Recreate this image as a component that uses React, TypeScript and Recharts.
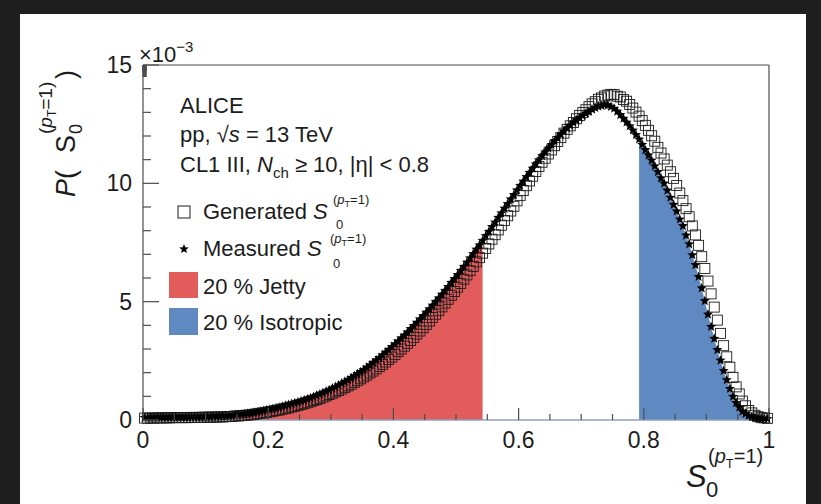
import React from "react";
import { ComposedChart, Area, Scatter, XAxis, YAxis } from "recharts";

// bin centres of S0 (pT=1), 200 bins of 0.005
const binCenters = [
  0.0025, 0.0075, 0.0125, 0.0175, 0.0225, 0.0275, 0.0325, 0.0375, 0.0425, 0.0475,
  0.0525, 0.0575, 0.0625, 0.0675, 0.0725, 0.0775, 0.0825, 0.0875, 0.0925, 0.0975,
  0.1025, 0.1075, 0.1125, 0.1175, 0.1225, 0.1275, 0.1325, 0.1375, 0.1425, 0.1475,
  0.1525, 0.1575, 0.1625, 0.1675, 0.1725, 0.1775, 0.1825, 0.1875, 0.1925, 0.1975,
  0.2025, 0.2075, 0.2125, 0.2175, 0.2225, 0.2275, 0.2325, 0.2375, 0.2425, 0.2475,
  0.2525, 0.2575, 0.2625, 0.2675, 0.2725, 0.2775, 0.2825, 0.2875, 0.2925, 0.2975,
  0.3025, 0.3075, 0.3125, 0.3175, 0.3225, 0.3275, 0.3325, 0.3375, 0.3425, 0.3475,
  0.3525, 0.3575, 0.3625, 0.3675, 0.3725, 0.3775, 0.3825, 0.3875, 0.3925, 0.3975,
  0.4025, 0.4075, 0.4125, 0.4175, 0.4225, 0.4275, 0.4325, 0.4375, 0.4425, 0.4475,
  0.4525, 0.4575, 0.4625, 0.4675, 0.4725, 0.4775, 0.4825, 0.4875, 0.4925, 0.4975,
  0.5025, 0.5075, 0.5125, 0.5175, 0.5225, 0.5275, 0.5325, 0.5375, 0.5425, 0.5475,
  0.5525, 0.5575, 0.5625, 0.5675, 0.5725, 0.5775, 0.5825, 0.5875, 0.5925, 0.5975,
  0.6025, 0.6075, 0.6125, 0.6175, 0.6225, 0.6275, 0.6325, 0.6375, 0.6425, 0.6475,
  0.6525, 0.6575, 0.6625, 0.6675, 0.6725, 0.6775, 0.6825, 0.6875, 0.6925, 0.6975,
  0.7025, 0.7075, 0.7125, 0.7175, 0.7225, 0.7275, 0.7325, 0.7375, 0.7425, 0.7475,
  0.7525, 0.7575, 0.7625, 0.7675, 0.7725, 0.7775, 0.7825, 0.7875, 0.7925, 0.7975,
  0.8025, 0.8075, 0.8125, 0.8175, 0.8225, 0.8275, 0.8325, 0.8375, 0.8425, 0.8475,
  0.8525, 0.8575, 0.8625, 0.8675, 0.8725, 0.8775, 0.8825, 0.8875, 0.8925, 0.8975,
  0.9025, 0.9075, 0.9125, 0.9175, 0.9225, 0.9275, 0.9325, 0.9375, 0.9425, 0.9475,
  0.9525, 0.9575, 0.9625, 0.9675, 0.9725, 0.9775, 0.9825, 0.9875, 0.9925, 0.9975,
];

// P(S0) in units of 1e-3, generated level
const generated = [
  0.08, 0.08, 0.08, 0.08, 0.09, 0.09, 0.09, 0.09, 0.09, 0.10,
  0.10, 0.10, 0.10, 0.10, 0.10, 0.11, 0.11, 0.11, 0.11, 0.12,
  0.12, 0.12, 0.12, 0.13, 0.13, 0.13, 0.14, 0.15, 0.15, 0.17,
  0.17, 0.19, 0.19, 0.21, 0.22, 0.24, 0.26, 0.28, 0.30, 0.32,
  0.35, 0.37, 0.40, 0.42, 0.46, 0.48, 0.51, 0.55, 0.58, 0.62,
  0.65, 0.69, 0.73, 0.77, 0.82, 0.86, 0.91, 0.97, 1.02, 1.08,
  1.13, 1.19, 1.25, 1.31, 1.38, 1.44, 1.51, 1.59, 1.66, 1.74,
  1.82, 1.90, 1.99, 2.07, 2.16, 2.26, 2.35, 2.45, 2.56, 2.66,
  2.77, 2.89, 3.00, 3.12, 3.24, 3.36, 3.49, 3.63, 3.76, 3.90,
  4.04, 4.18, 4.33, 4.47, 4.62, 4.78, 4.94, 5.10, 5.27, 5.43,
  5.61, 5.77, 5.95, 6.13, 6.31, 6.49, 6.68, 6.86, 7.05, 7.25,
  7.44, 7.64, 7.83, 8.03, 8.23, 8.43, 8.63, 8.83, 9.03, 9.26,
  9.49, 9.70, 9.90, 10.10, 10.30, 10.50, 10.71, 10.89, 11.06, 11.24,
  11.41, 11.59, 11.77, 11.93, 12.12, 12.28, 12.43, 12.57, 12.73, 12.87,
  12.99, 13.11, 13.24, 13.36, 13.45, 13.55, 13.61, 13.69, 13.73, 13.76,
  13.75, 13.68, 13.65, 13.54, 13.47, 13.33, 13.18, 13.01, 12.84, 12.65,
  12.45, 12.24, 12.01, 11.78, 11.52, 11.28, 11.03, 10.77, 10.49, 10.21,
  9.91, 9.59, 9.27, 8.93, 8.59, 8.20, 7.82, 7.38, 6.90, 6.40,
  5.87, 5.33, 4.77, 4.22, 3.66, 3.14, 2.67, 2.23, 1.80, 1.40,
  1.10, 0.80, 0.60, 0.40, 0.30, 0.20, 0.14, 0.10, 0.09, 0.07,
];

// P(S0) in units of 1e-3, measured (unfolded) level
const measured = [
  0.10, 0.10, 0.10, 0.10, 0.11, 0.11, 0.11, 0.11, 0.11, 0.12,
  0.12, 0.12, 0.12, 0.12, 0.12, 0.13, 0.13, 0.13, 0.13, 0.14,
  0.14, 0.14, 0.15, 0.15, 0.16, 0.17, 0.17, 0.18, 0.19, 0.21,
  0.22, 0.24, 0.25, 0.27, 0.29, 0.31, 0.34, 0.36, 0.39, 0.41,
  0.44, 0.47, 0.50, 0.53, 0.57, 0.61, 0.64, 0.68, 0.72, 0.76,
  0.80, 0.84, 0.89, 0.93, 0.98, 1.04, 1.09, 1.15, 1.21, 1.27,
  1.34, 1.40, 1.47, 1.55, 1.62, 1.70, 1.78, 1.86, 1.95, 2.03,
  2.12, 2.22, 2.32, 2.42, 2.53, 2.63, 2.74, 2.86, 2.97, 3.09,
  3.21, 3.33, 3.46, 3.58, 3.71, 3.85, 3.98, 4.12, 4.26, 4.40,
  4.55, 4.69, 4.84, 5.00, 5.15, 5.31, 5.47, 5.63, 5.80, 5.96,
  6.13, 6.31, 6.48, 6.66, 6.84, 7.02, 7.21, 7.39, 7.58, 7.78,
  7.96, 8.16, 8.35, 8.55, 8.74, 8.94, 9.13, 9.33, 9.51, 9.71,
  9.90, 10.08, 10.27, 10.45, 10.63, 10.81, 10.98, 11.16, 11.32, 11.48,
  11.63, 11.79, 11.93, 12.07, 12.21, 12.33, 12.45, 12.57, 12.67, 12.77,
  12.86, 12.95, 13.04, 13.12, 13.19, 13.25, 13.28, 13.31, 13.30, 13.24,
  13.16, 13.04, 12.89, 12.74, 12.58, 12.42, 12.24, 12.05, 11.86, 11.64,
  11.41, 11.19, 10.97, 10.73, 10.48, 10.22, 10.00, 9.70, 9.40, 9.10,
  8.82, 8.48, 8.20, 7.80, 7.43, 6.97, 6.55, 6.05, 5.57, 5.03,
  4.46, 3.94, 3.44, 2.96, 2.52, 2.08, 1.69, 1.32, 0.99, 0.72,
  0.54, 0.36, 0.27, 0.18, 0.14, 0.10, 0.09, 0.07, 0.06, 0.05,
];

// 20 % jetty below this S0, 20 % isotropic above the other
const jettyMax = 0.545;
const isoMin = 0.788;

const xMajor = [0, 0.2, 0.4, 0.6, 0.8, 1];
const xTickLabels = ["0", "0.2", "0.4", "0.6", "0.8", "1"];
const xMinor = [0.05, 0.1, 0.15, 0.25, 0.3, 0.35, 0.45, 0.5, 0.55, 0.65, 0.7, 0.75, 0.85, 0.9, 0.95];
const yMajor = [0, 5, 10, 15];
const yTickLabels = ["0", "5", "10", "15"];
const yMinor = [1, 2, 3, 4, 6, 7, 8, 9, 11, 12, 13, 14];

const xTicks = [...xMajor, ...xMinor].sort((a, b) => a - b);
const yTicks = [...yMajor, ...yMinor].sort((a, b) => a - b);

const rows = binCenters.map((x, i) => ({
  x,
  gen: generated[i],
  meas: measured[i],
  jetty: x <= jettyMax ? measured[i] : null,
  iso: x >= isoMin ? measured[i] : null,
}));

const FONT = "'Liberation Sans', Arial, Helvetica, sans-serif";
const FRAME = "#4d4d4d";
const INK = "#1c1c1c";
const RED = "#e35c5c";
const BLUE = "#5e8ac1";

const majorIdx = (list: number[], v: number) => list.findIndex((m) => Math.abs(m - v) < 1e-6);

function BottomTick({ x, y, payload }: any) {
  const k = majorIdx(xMajor, payload.value);
  return (
    <g>
      <line x1={x} x2={x} y1={y} y2={y - (k >= 0 ? 12 : 6)} stroke={FRAME} strokeWidth={1.2} />
      {k >= 0 && (
        <text x={x} y={y + 28} textAnchor="middle" fontSize={23} fontFamily={FONT} fill={INK}>
          {xTickLabels[k]}
        </text>
      )}
    </g>
  );
}

function TopTick({ x, y, payload }: any) {
  const k = majorIdx(xMajor, payload.value);
  return <line x1={x} x2={x} y1={y} y2={y + (k >= 0 ? 12 : 6)} stroke={FRAME} strokeWidth={1.2} />;
}

function LeftTick({ x, y, payload }: any) {
  const k = majorIdx(yMajor, payload.value);
  return (
    <g>
      <line x1={x} x2={x + (k >= 0 ? 16 : 8)} y1={y} y2={y} stroke={FRAME} strokeWidth={1.2} />
      {k >= 0 && (
        <text x={x - 11} y={y + 8} textAnchor="end" fontSize={23} fontFamily={FONT} fill={INK}>
          {yTickLabels[k]}
        </text>
      )}
    </g>
  );
}

function RightTick({ x, y, payload }: any) {
  const k = majorIdx(yMajor, payload.value);
  return <line x1={x} x2={x - (k >= 0 ? 16 : 8)} y1={y} y2={y} stroke={FRAME} strokeWidth={1.2} />;
}

function SquareMark({ cx, cy }: any) {
  if (cx == null || cy == null) return <g />;
  return <rect x={cx - 5} y={cy - 5} width={10} height={10} fill="none" stroke={INK} strokeWidth={0.9} />;
}

function starPath(cx: number, cy: number, r: number, ri: number) {
  let d = "";
  for (let k = 0; k < 10; k++) {
    const rad = k % 2 === 0 ? r : ri;
    const a = -Math.PI / 2 + (k * Math.PI) / 5;
    d += (k === 0 ? "M" : "L") + (cx + rad * Math.cos(a)).toFixed(2) + "," + (cy + rad * Math.sin(a)).toFixed(2);
  }
  return d + "Z";
}

function StarMark({ cx, cy }: any) {
  if (cx == null || cy == null) return <g />;
  return <path d={starPath(cx, cy, 5.3, 2.3)} fill="#000" />;
}

function Labels() {
  return (
    <svg width={821} height={504} style={{ position: "absolute", left: 0, top: 0 }} fontFamily={FONT} fill={INK}>
      <text x={139} y={62} fontSize={22}>
        ×10<tspan fontSize={15} dy={-10}>−3</tspan>
      </text>

      {/* y title: P( S0^(pT=1) ) */}
      <g transform="translate(75,197) rotate(-90)" fontSize={27}>
        <text x={0} y={0}>
          <tspan fontStyle="italic">P</tspan>(
        </text>
        <text x={44} y={0}>S</text>
        <text x={63} y={7} fontSize={18}>0</text>
        <text x={63} y={-23} fontSize={19}>
          (<tspan fontStyle="italic">p</tspan>
          <tspan fontSize={12} dy={4}>T</tspan>
          <tspan dy={-4}>=1)</tspan>
        </text>
        <text x={118} y={0}>)</text>
      </g>

      {/* x title */}
      <text x={686} y={487} fontSize={31} fontStyle="italic">S</text>
      <text x={706} y={497} fontSize={22}>0</text>
      <text x={708} y={463} fontSize={20}>
        (<tspan fontStyle="italic">p</tspan>
        <tspan fontSize={13} dy={5}>T</tspan>
        <tspan dy={-5}>=1)</tspan>
      </text>

      <g fontSize={22}>
        <text x={180} y={113}>ALICE</text>
        <text x={180} y={142}>
          pp, √<tspan fontStyle="italic">s</tspan> = 13 TeV
        </text>
        <text x={180} y={172}>
          CL1 III, <tspan fontStyle="italic">N</tspan>
          <tspan fontSize={15} dy={6}>ch</tspan>
          <tspan dy={-6}> ≥ 10, |η| &lt; 0.8</tspan>
        </text>

        <rect x={178} y={206} width={12} height={12} fill="none" stroke={INK} strokeWidth={1} />
        <text x={203} y={219}>
          Generated <tspan fontStyle="italic">S</tspan>
        </text>
        <text x={336} y={229} fontSize={13}>0</text>
        <text x={333} y={204} fontSize={13}>
          (<tspan fontStyle="italic">p</tspan>
          <tspan fontSize={9} dy={3}>T</tspan>
          <tspan dy={-3}>=1)</tspan>
        </text>

        <path d={starPath(184, 249, 5, 2.2)} fill="#000" />
        <text x={203} y={256}>
          Measured <tspan fontStyle="italic">S</tspan>
        </text>
        <text x={333} y={268} fontSize={13}>0</text>
        <text x={330} y={243} fontSize={13}>
          (<tspan fontStyle="italic">p</tspan>
          <tspan fontSize={9} dy={3}>T</tspan>
          <tspan dy={-3}>=1)</tspan>
        </text>

        <rect x={169} y={272} width={29} height={26} fill={RED} />
        <text x={203} y={294}>20 % Jetty</text>
        <rect x={169} y={308} width={29} height={27} fill={BLUE} />
        <text x={203} y={330}>20 % Isotropic</text>
      </g>
    </svg>
  );
}

export default function App() {
  return (
    <div style={{ position: "absolute", left: 0, top: 0, width: 821, height: 504, background: "#1f1f1f", overflow: "hidden" }}>
      <div style={{ position: "absolute", left: 20, top: 14, width: 786, height: 490, background: "#ffffff" }} />
      <div style={{ position: "absolute", left: 0, top: 0 }}>
        <ComposedChart width={821} height={504} data={rows} margin={{ top: 64, right: 51, bottom: 83, left: 142 }}>
          <XAxis
            dataKey="x"
            type="number"
            domain={[0, 1]}
            ticks={xTicks}
            interval={0}
            height={1}
            tickSize={0}
            tickMargin={0}
            tick={<BottomTick />}
            axisLine={{ stroke: "#8fa2bf", strokeWidth: 1.5 }}
            tickLine={false}
          />
          <XAxis
            xAxisId="top"
            orientation="top"
            type="number"
            domain={[0, 1]}
            ticks={xTicks}
            interval={0}
            height={1}
            tickSize={0}
            tickMargin={0}
            tick={<TopTick />}
            axisLine={{ stroke: FRAME, strokeWidth: 1.2 }}
            tickLine={false}
          />
          <YAxis
            type="number"
            domain={[0, 15]}
            ticks={yTicks}
            interval={0}
            width={1}
            tickSize={0}
            tickMargin={0}
            tick={<LeftTick />}
            axisLine={{ stroke: FRAME, strokeWidth: 1.2 }}
            tickLine={false}
          />
          <YAxis
            yAxisId="right"
            orientation="right"
            type="number"
            domain={[0, 15]}
            ticks={yTicks}
            interval={0}
            width={1}
            tickSize={0}
            tickMargin={0}
            tick={<RightTick />}
            axisLine={{ stroke: FRAME, strokeWidth: 1.2 }}
            tickLine={false}
          />
          <Area dataKey="jetty" type="linear" fill={RED} fillOpacity={1} stroke="none" isAnimationActive={false} />
          <Area dataKey="iso" type="linear" fill={BLUE} fillOpacity={1} stroke="none" isAnimationActive={false} />
          <Scatter dataKey="gen" shape={<SquareMark />} isAnimationActive={false} />
          <Scatter dataKey="meas" shape={<StarMark />} isAnimationActive={false} />
        </ComposedChart>
      </div>
      <Labels />
    </div>
  );
}
